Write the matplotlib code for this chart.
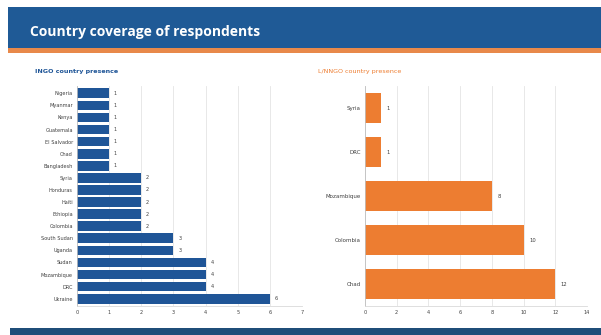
import matplotlib.pyplot as plt
import matplotlib.patches as patches

ingo_countries = ['Nigeria', 'Myanmar', 'Kenya', 'Guatemala', 'El Salvador', 'Chad', 'Bangladesh',
                  'Syria', 'Honduras', 'Haiti', 'Ethiopia', 'Colombia', 'South Sudan', 'Uganda',
                  'Sudan', 'Mozambique', 'DRC', 'Ukraine']
ingo_values = [1, 1, 1, 1, 1, 1, 1, 2, 2, 2, 2, 2, 3, 3, 4, 4, 4, 6]

lnngo_countries = ['Syria', 'DRC', 'Mozambique', 'Colombia', 'Chad']
lnngo_values = [1, 1, 8, 10, 12]

BLUE = '#1F5597'
ORANGE = '#ED7D31'
GRID = '#E4E4E4'

fig = plt.figure(figsize=(6.01, 3.35), dpi=100)
fig.patch.set_facecolor('white')

# header banner
fig.patches.append(patches.Rectangle((8 / 601, 1 - 48 / 335), 1, 41 / 335, transform=fig.transFigure,
                                     facecolor='#1F5A96', edgecolor='none'))
fig.patches.append(patches.Rectangle((8 / 601, 1 - 53 / 335), 1, 5 / 335, transform=fig.transFigure,
                                     facecolor='#E8894A', edgecolor='none'))
fig.text(30 / 601, 1 - 32 / 335, 'Country coverage of respondents', color='white',
         fontsize=10, fontweight='bold', family='Open Sans', va='center', ha='left')
# footer banner
fig.patches.append(patches.Rectangle((10 / 601, 0), 1, 7 / 335, transform=fig.transFigure,
                                     facecolor='#1F4E79', edgecolor='none'))

fig.text(35 / 601, 1 - 72 / 335, 'INGO country presence', color=BLUE, fontsize=4.6,
         fontweight='bold', va='center')
fig.text(318 / 601, 1 - 72 / 335, 'L/NNGO country presence', color=ORANGE, fontsize=4.6,
         va='center')


def style(ax, xmax):
    ax.set_xlim(0, xmax)
    ax.set_xticks(range(0, xmax + 1, 1 if xmax < 10 else 2))
    ax.grid(axis='x', color=GRID, linewidth=0.6)
    ax.set_axisbelow(True)
    for s in ['top', 'right']:
        ax.spines[s].set_visible(False)
    ax.spines['left'].set_color('#BFBFBF')
    ax.spines['bottom'].set_color('#D9D9D9')
    ax.spines['left'].set_linewidth(0.6)
    ax.spines['bottom'].set_linewidth(0.6)
    ax.tick_params(axis='both', length=0, labelsize=3.6, labelcolor='#404040', pad=3)


ax1 = fig.add_axes([77 / 601, 29 / 335, 225 / 601, 220 / 335])
y1 = range(len(ingo_countries))
ax1.barh(y1, ingo_values, height=0.8, color=BLUE)
ax1.set_yticks(list(y1))
ax1.set_yticklabels(ingo_countries)
ax1.set_ylim(len(ingo_countries) - 0.4, -0.6)
style(ax1, 7)
for i, v in enumerate(ingo_values):
    ax1.text(v + 0.15, i, str(v), fontsize=3.6, color='#404040', va='center')

ax2 = fig.add_axes([365 / 601, 29 / 335, 222 / 601, 220 / 335])
y2 = range(len(lnngo_countries))
ax2.barh(y2, lnngo_values, height=0.7, color=ORANGE)
ax2.set_yticks(list(y2))
ax2.set_yticklabels(lnngo_countries, fontsize=4)
ax2.set_ylim(len(lnngo_countries) - 0.5, -0.5)
style(ax2, 14)
ax2.tick_params(axis='y', labelsize=4)
for i, v in enumerate(lnngo_values):
    ax2.text(v + 0.35, i, str(v), fontsize=3.8, color='#404040', va='center')

fig.savefig('out.png', dpi=100)
